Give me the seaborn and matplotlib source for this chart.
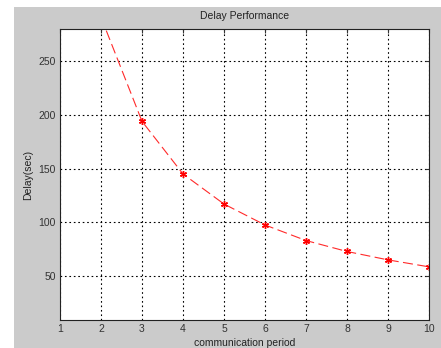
import numpy as np
import pandas as pd
import matplotlib
matplotlib.use("Agg")
import matplotlib.pyplot as plt
import seaborn as sns
from matplotlib.patches import Rectangle

# data
period = [2, 3, 4, 5, 6, 7, 8, 9, 10]
delay = [291, 194, 145, 117, 97.5, 83, 72.8, 65, 58.5]
xticks = [1, 2, 3, 4, 5, 6, 7, 8, 9, 10]
yticks = [50, 100, 150, 200, 250]

df = pd.DataFrame({"period": period, "delay": delay})

sns.set_style("white")
plt.rcParams['font.family'] = ['Liberation Sans', 'DejaVu Sans']

fig = plt.figure(figsize=(4.41, 3.48), dpi=100, facecolor="white")
# matlab-style gray figure panel, offset from the image edge
fig.patches.append(Rectangle((14 / 441, 0), 1 - 14 / 441, 1 - 7 / 348,
                             transform=fig.transFigure, facecolor="#cbcbcb",
                             edgecolor="none", zorder=-10))

ax = fig.add_axes([60 / 441, 28 / 348, 369 / 441, 291 / 348])
ax.set_facecolor("white")

sns.lineplot(data=df, x="period", y="delay", ax=ax, color="#ff2a2a",
             linestyle=(0, (9, 4)), linewidth=0.8, marker=(6, 2, 0),
             markersize=5, markeredgewidth=1.0, markeredgecolor="red",
             markerfacecolor="red")

ax.set_xlim(1, 10)
ax.set_ylim(9, 280)
ax.set_xticks(xticks)
ax.set_yticks(yticks)
ax.grid(True, color="black", linestyle=(0, (1.5, 2.5)), linewidth=0.8)
ax.tick_params(labelsize=7.5, direction="in", length=3, colors="#333333",
               top=True, right=True, pad=3)
for s in ax.spines.values():
    s.set_color("#222222")
    s.set_linewidth(0.8)

ax.set_title("Delay Performance", fontsize=7.5, pad=7, color="#222222")
ax.set_xlabel("communication period", fontsize=7.5, labelpad=3, color="#222222")
ax.set_ylabel("Delay(sec)", fontsize=7.5, labelpad=4, color="#222222")

fig.savefig("out.png", dpi=100, facecolor=fig.get_facecolor())
